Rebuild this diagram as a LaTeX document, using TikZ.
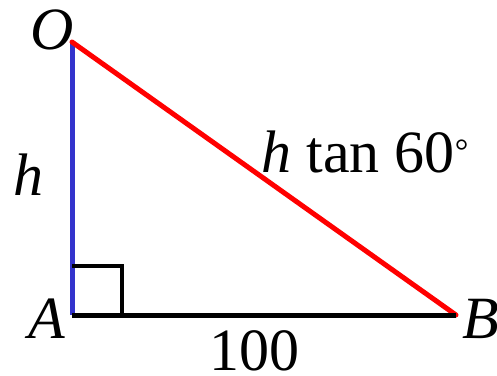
\documentclass[tikz,border=0pt]{standalone}
\usepackage{fontspec}
\newfontfamily\tnr{Liberation Serif}
\definecolor{myblue}{RGB}{51,51,204}
\begin{document}
\begin{tikzpicture}[x=1pt,y=-1pt,
  lbl/.style={inner sep=0pt,anchor=base,font=\tnr\fontsize{60}{60}\selectfont},
  seg/.style={line width=5pt}]
\useasboundingbox (0,0) rectangle (497,375);
\coordinate (O) at (72,42);
\coordinate (A) at (72,315);
\coordinate (B) at (456,315);
\draw[seg,myblue] (A) -- (O);
\draw[seg,red,line cap=round] (O) -- (B);
\draw[seg,black] (A) -- (B);
\draw[line width=4pt] ([yshift=49pt]A) -| ([xshift=50pt]A);
\node[lbl] (lO) at (52,49) {\itshape O};
\node[lbl] (lh) at (28,195) {\itshape h};
\node[lbl] (lA) at (47,338) {\itshape A};
\node[lbl] (lB) at (481,338) {\itshape B};
\node[lbl] (l100) at (254,370) {100};
\node[lbl] (ltan) at (365,172) {\itshape h\upshape\ tan 60\raisebox{10pt}{\fontsize{34}{34}\selectfont °}};
\end{tikzpicture}
\end{document}
